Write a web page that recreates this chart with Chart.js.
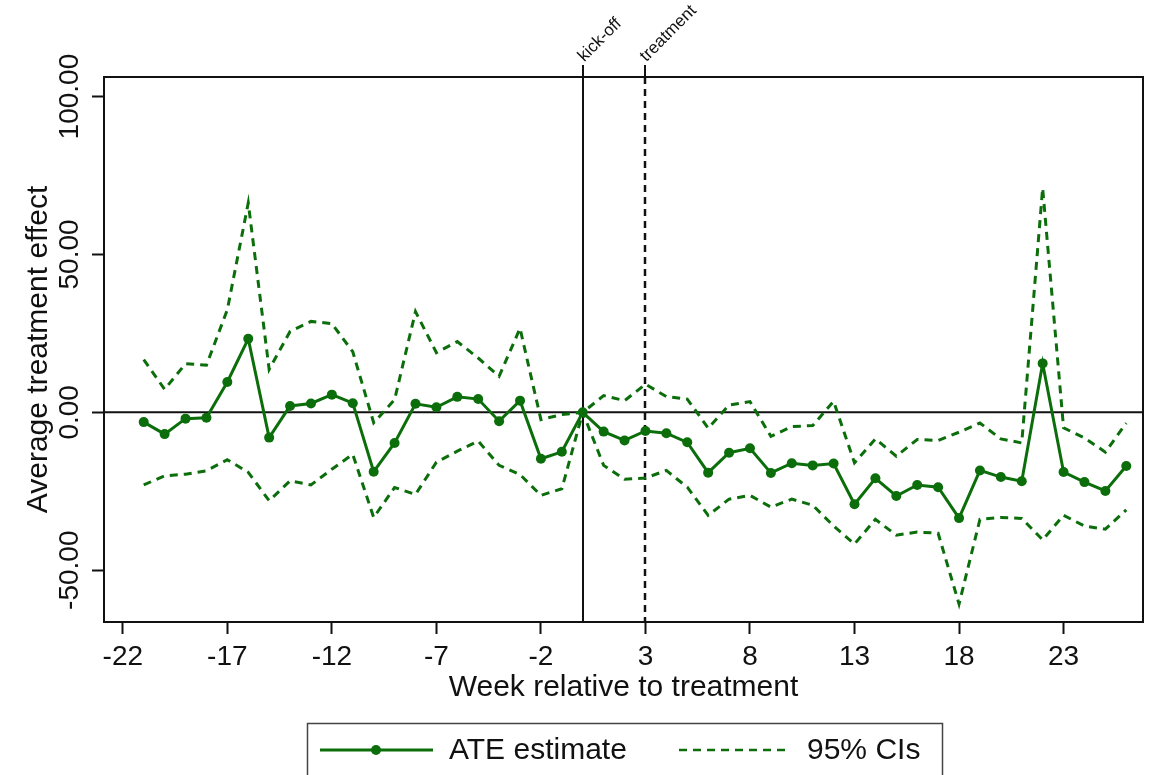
<!DOCTYPE html>
<html>
<head>
<meta charset="utf-8">
<script src="https://cdn.jsdelivr.net/npm/chart.js@4"></script>
<style>
  body { margin: 0; background: #fff; }
</style>
</head>
<body>
<canvas id="chart" width="1152" height="775"></canvas>
<script>
// weeks relative to treatment
var weeks = [-21, -20, -19, -18, -17, -16, -15, -14, -13, -12, -11, -10, -9, -8, -7, -6, -5, -4, -3, -2, -1, 0,
    1, 2, 3, 4, 5, 6, 7, 8, 9, 10, 11, 12, 13, 14, 15, 16, 17, 18, 19, 20, 21, 22, 23, 24, 25, 26];

var ate = [-3.1, -6.9, -2.0, -1.7, 9.6, 23.3, -8.0, 2.0, 2.8, 5.6, 2.9, -18.8, -9.7, 2.7, 1.6, 4.9, 4.2, -2.8, 3.7, -14.7, -12.5, 0,
    -6.1, -8.9, -5.9, -6.6, -9.5, -19.1, -12.8, -11.4, -19.2, -16.1, -16.8, -16.2, -29.1, -20.9, -26.5, -23.0, -23.7, -33.5, -18.4, -20.5, -21.8, 15.5, -18.9, -22.1, -24.9, -17.0];

var ciUpper = [16.7, 7.3, 15.4, 14.9, 32.5, 66.3, 13.6, 25.6, 28.8, 28.1, 19.2, -3.3, 4.0, 31.9, 18.9, 22.4, 17.2, 11.4, 26.6, -2.3, -0.7, 0,
    5.3, 3.7, 8.9, 5.0, 4.2, -5.0, 2.3, 3.4, -7.6, -4.5, -4.2, 3.5, -16.0, -8.4, -13.9, -8.6, -8.9, -6.3, -3.4, -8.4, -9.7, 71.0, -4.9, -8.1, -12.6, -3.4];

var ciLower = [-23.0, -20.1, -19.6, -18.5, -15.0, -19.0, -28.0, -21.7, -23.0, -18.0, -13.3, -33.3, -23.8, -26.0, -15.8, -12.3, -9.1, -16.8, -19.7, -26.3, -24.2, 0,
    -16.8, -21.2, -20.8, -18.4, -23.7, -32.6, -27.5, -26.3, -30.0, -27.5, -29.4, -36.0, -41.7, -33.9, -38.9, -37.9, -38.3, -60.7, -33.9, -33.3, -33.6, -40.4, -32.6, -36.0, -37.0, -30.9];

var xTicks = [-22, -17, -12, -7, -2, 3, 8, 13, 18, 23];
var yTicks = [-50, 0, 50, 100];

var eventWeeks = [0, 3];
var eventLabels = ['kick-off', 'treatment'];

var green = '#0b6e0b';
var FONT = '"Liberation Sans", Arial, sans-serif';

function pts(vals) {
    return weeks.map(function (w, i) { return { x: w, y: vals[i] }; });
}

// y tick labels are rotated, so work out the padding that centres them at x=70
var m = document.createElement('canvas').getContext('2d');
m.font = '28px ' + FONT;
var widest = Math.max.apply(null, yTicks.map(function (v) { return m.measureText(v.toFixed(2)).width; }));
var yPad = 104 - 12 - 70 - widest / 2;

function line(ctx, x1, y1, x2, y2) {
    ctx.beginPath();
    ctx.moveTo(x1, y1);
    ctx.lineTo(x2, y2);
    ctx.stroke();
}

var refLines = {
    id: 'refLines',
    beforeDatasetsDraw: function (chart) {
        var ctx = chart.ctx, a = chart.chartArea, x = chart.scales.x, y = chart.scales.y;
        ctx.save();
        ctx.strokeStyle = '#111';
        ctx.lineWidth = 2;
        var y0 = y.getPixelForValue(0);
        line(ctx, a.left, y0, a.right, y0);
        eventWeeks.forEach(function (w, i) {
            var px = Math.round(x.getPixelForValue(w));
            ctx.lineWidth = i === 0 ? 2 : 2.5;
            ctx.setLineDash(i === 0 ? [] : [7, 5]);
            line(ctx, px, a.top, px, a.bottom);
            ctx.setLineDash([]);
            ctx.lineWidth = 2;
            line(ctx, px, a.top - 12, px, a.top);
            ctx.save();
            ctx.translate(px + 4, a.top - 12);
            ctx.rotate(-Math.PI / 4);
            ctx.fillStyle = '#111';
            ctx.font = '17px ' + FONT;
            ctx.textAlign = 'left';
            ctx.textBaseline = 'bottom';
            ctx.fillText(eventLabels[i], 0, 0);
            ctx.restore();
        });
        ctx.restore();
    },
    afterDraw: function (chart) {
        var ctx = chart.ctx, a = chart.chartArea;
        ctx.save();
        // frame round the plot
        ctx.strokeStyle = '#111';
        ctx.lineWidth = 2;
        ctx.strokeRect(a.left, a.top, a.right - a.left, a.bottom - a.top);

        // legend box
        ctx.strokeStyle = '#444';
        ctx.lineWidth = 1.5;
        ctx.strokeRect(307.5, 723.5, 635, 70);
        var ly = 750;
        ctx.strokeStyle = green;
        ctx.lineWidth = 3;
        line(ctx, 320, ly, 433, ly);
        ctx.fillStyle = green;
        ctx.beginPath();
        ctx.arc(376, ly, 5, 0, Math.PI * 2);
        ctx.fill();
        ctx.lineWidth = 2.5;
        ctx.setLineDash([8, 6]);
        line(ctx, 679, ly, 790, ly);
        ctx.setLineDash([]);
        ctx.fillStyle = '#111';
        ctx.font = '30px ' + FONT;
        ctx.textAlign = 'left';
        ctx.textBaseline = 'middle';
        ctx.fillText(chart.data.datasets[2].label, 449, ly + 1);
        ctx.fillText(chart.data.datasets[0].label, 807, ly + 1);
        ctx.restore();
    }
};

var ctx = document.getElementById('chart').getContext('2d');
var chart = new Chart(ctx, {
    type: 'line',
    data: {
        datasets: [{
            label: '95% CIs',
            data: pts(ciUpper),
            borderColor: green,
            borderWidth: 3,
            borderDash: [8, 6],
            pointRadius: 0,
            fill: false
        }, {
            label: '95% CIs',
            data: pts(ciLower),
            borderColor: green,
            borderWidth: 3,
            borderDash: [8, 6],
            pointRadius: 0,
            fill: false
        }, {
            label: 'ATE estimate',
            data: pts(ate),
            borderColor: green,
            borderWidth: 3,
            pointRadius: 5,
            pointBackgroundColor: green,
            pointBorderWidth: 0,
            fill: false
        }]
    },
    options: {
        responsive: false,
        animation: false,
        layout: {
            padding: { top: 77, right: 9, bottom: 53, left: 0 }
        },
        plugins: {
            legend: { display: false },
            tooltip: { enabled: false }
        },
        scales: {
            x: {
                type: 'linear',
                min: -22.9,
                max: 26.8,
                afterBuildTicks: function (s) { s.ticks = xTicks.map(function (v) { return { value: v }; }); },
                afterFit: function (s) { s.height = 100; },
                grid: { drawOnChartArea: false, tickLength: 12, tickColor: '#111', tickWidth: 2 },
                border: { display: true, color: '#111', width: 2 },
                ticks: {
                    color: '#111',
                    font: { family: FONT, size: 28 },
                    padding: 6,
                    maxRotation: 0,
                    callback: function (v) { return String(v); }
                },
                title: {
                    display: true,
                    text: 'Week relative to treatment',
                    color: '#111',
                    font: { family: FONT, size: 30 },
                    padding: { top: 0, bottom: 16 }
                }
            },
            y: {
                min: -66.4,
                max: 106.2,
                afterBuildTicks: function (s) { s.ticks = yTicks.map(function (v) { return { value: v }; }); },
                afterFit: function (s) { s.width = 104; },
                grid: { drawOnChartArea: false, tickLength: 12, tickColor: '#111', tickWidth: 2 },
                border: { display: true, color: '#111', width: 2 },
                ticks: {
                    color: '#111',
                    font: { family: FONT, size: 28 },
                    minRotation: 90,
                    maxRotation: 90,
                    crossAlign: 'center',
                    padding: yPad,
                    callback: function (v) { return v.toFixed(2); }
                },
                title: {
                    display: true,
                    text: 'Average treatment effect',
                    color: '#111',
                    font: { family: FONT, size: 30 },
                    padding: { top: 21, bottom: 0 }
                }
            }
        }
    },
    plugins: [refLines]
});
</script>
</body>
</html>
